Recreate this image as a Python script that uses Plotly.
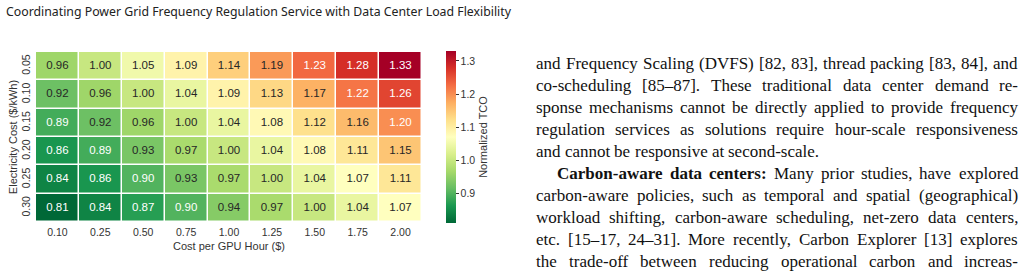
import plotly.graph_objects as go

# ---- data ----
gpu_cost = ["0.10", "0.25", "0.50", "0.75", "1.00", "1.25", "1.50", "1.75", "2.00"]
elec_cost = ["0.05", "0.10", "0.15", "0.20", "0.25", "0.30"]
tco = [
    [0.96, 1.00, 1.05, 1.09, 1.14, 1.19, 1.23, 1.28, 1.33],
    [0.92, 0.96, 1.00, 1.04, 1.09, 1.13, 1.17, 1.22, 1.26],
    [0.89, 0.92, 0.96, 1.00, 1.04, 1.08, 1.12, 1.16, 1.20],
    [0.86, 0.89, 0.93, 0.97, 1.00, 1.04, 1.08, 1.11, 1.15],
    [0.84, 0.86, 0.90, 0.93, 0.97, 1.00, 1.04, 1.07, 1.11],
    [0.81, 0.84, 0.87, 0.90, 0.94, 0.97, 1.00, 1.04, 1.07],
]
colorbar_ticks = [0.9, 1.0, 1.1, 1.2, 1.3]

header = "Coordinating Power Grid Frequency Regulation Service with Data Center Load Flexibility"
body_lines = [
    "and Frequency Scaling (DVFS) [82, 83], thread packing [83, 84], and",
    "co-scheduling [85–87]. These traditional data center demand re-",
    "sponse mechanisms cannot be directly applied to provide frequency",
    "regulation services as solutions require hour-scale responsiveness",
    "and cannot be responsive at second-scale.",
    "Carbon-aware data centers: Many prior studies, have explored",
    "carbon-aware policies, such as temporal and spatial (geographical)",
    "workload shifting, carbon-aware scheduling, net-zero data centers,",
    "etc. [15–17, 24–31]. More recently, Carbon Explorer [13] explores",
    "the trade-off between reducing operational carbon and increas-",
]
bold_words = {5: 3}          # line index -> number of leading bold words
paragraph_end = {4}          # lines that are not justified
indented = {5}

W, H = 1024, 277
rdylgn = ['rgb(165,0,38)', 'rgb(215,48,39)', 'rgb(244,109,67)', 'rgb(253,174,97)',
          'rgb(254,224,139)', 'rgb(255,255,191)', 'rgb(217,239,139)', 'rgb(166,217,106)',
          'rgb(102,189,99)', 'rgb(26,152,80)', 'rgb(0,104,55)']
cscale = [[i / 10, c] for i, c in enumerate(reversed(rdylgn))]

zmin = min(min(r) for r in tco)
zmax = max(max(r) for r in tco)

TXT = "#333"
SANS = "Liberation Sans"

fig = go.Figure()
fig.add_trace(go.Heatmap(
    x=gpu_cost, y=elec_cost, z=tco,
    colorscale=cscale, zmin=zmin, zmax=zmax,
    xgap=1.5, ygap=1.5,
    hoverinfo="skip",
    colorbar=dict(
        thicknessmode="pixels", thickness=10,
        lenmode="pixels", len=172,
        x=446 / W, xanchor="left", xpad=0,
        y=1 - 51 / H, yanchor="top", ypad=0,
        outlinewidth=0,
        tickvals=colorbar_ticks, ticktext=[f"{v:.1f}" for v in colorbar_ticks],
        ticks="outside", ticklen=3, tickwidth=1, tickcolor=TXT,
        tickfont=dict(family=SANS, size=10.5, color=TXT),
        title=dict(text="Normalized TCO", side="right",
                   font=dict(family=SANS, size=11, color=TXT)),
    ),
))

# cell labels
xs, ys, ts, cs = [], [], [], []
for i, row in enumerate(tco):
    for j, v in enumerate(row):
        xs.append(gpu_cost[j]); ys.append(elec_cost[i]); ts.append(f"{v:.2f}")
        cs.append("white" if (v <= 0.90 or v >= 1.20) else "#262626")
fig.add_trace(go.Scatter(
    x=xs, y=ys, text=ts, mode="text", hoverinfo="skip", showlegend=False,
    textfont=dict(family=SANS, size=11.5, color=cs),
))

fig.update_layout(
    width=W, height=H,
    margin=dict(l=0, r=0, t=0, b=0),
    paper_bgcolor="white", plot_bgcolor="white",
    showlegend=False,
    xaxis=dict(domain=[36 / W, 422 / W], type="category", showgrid=False, zeroline=False,
               ticks="", ticklabelstandoff=2,
               tickfont=dict(family=SANS, size=10.5, color=TXT),
               title=dict(text="Cost per GPU Hour ($)", standoff=5,
                          font=dict(family=SANS, size=11, color=TXT))),
    yaxis=dict(domain=[1 - 222 / H, 1 - 52 / H], type="category", autorange="reversed",
               showgrid=False, zeroline=False, ticks="", tickangle=-90, ticklabelstandoff=3,
               tickfont=dict(family=SANS, size=10.5, color=TXT),
               title=dict(text="Electricity Cost ($/kWh)", standoff=0,
                          font=dict(family=SANS, size=11, color=TXT))),
)

fig.add_annotation(
    text=header, xref="paper", yref="paper", x=4 / W, y=1 - 12 / H,
    xanchor="left", yanchor="middle", showarrow=False,
    font=dict(family="Noto Sans", size=12.3, color="#222"),
)

# ---- justified body text (Times-compatible advance widths, 1/1000 em) ----
REG = {' ': 250, '(': 333, ')': 333, ',': 250, '-': 333, '.': 250, ':': 278, '[': 333, ']': 333,
       '–': 500, 'A': 722, 'B': 667, 'C': 667, 'D': 722, 'E': 611, 'F': 556, 'G': 722, 'H': 722,
       'I': 333, 'J': 389, 'K': 722, 'L': 611, 'M': 889, 'N': 722, 'O': 722, 'P': 556, 'Q': 722,
       'R': 667, 'S': 556, 'T': 611, 'U': 722, 'V': 722, 'W': 944, 'X': 722, 'Y': 722, 'Z': 611,
       'a': 444, 'b': 500, 'c': 444, 'd': 500, 'e': 444, 'f': 333, 'g': 500, 'h': 500, 'i': 278,
       'j': 278, 'k': 500, 'l': 278, 'm': 778, 'n': 500, 'o': 500, 'p': 500, 'q': 500, 'r': 333,
       's': 389, 't': 278, 'u': 500, 'v': 500, 'w': 722, 'x': 500, 'y': 500, 'z': 444}
BOLD = {'C': 722, 'a': 500, 'r': 444, 'b': 556, 'o': 500, 'n': 556, '-': 333, 'w': 722,
        'e': 444, 'd': 556, 't': 333, 's': 389, 'c': 444, ':': 333}


def wwidth(word, bold, size):
    tbl = BOLD if bold else REG
    return sum(tbl.get(ch, REG.get(ch, 500)) for ch in word) * size / 1000.0


FS = 17
RIGHT = 1016
for k, line in enumerate(body_lines):
    x0 = 555 if k in indented else 534
    words = line.split(" ")
    nb = bold_words.get(k, 0)
    widths = [wwidth(w, i < nb, FS) for i, w in enumerate(words)]
    if k in paragraph_end or len(words) < 2:
        gap = 250 * FS / 1000.0
    else:
        gap = (RIGHT - x0 - sum(widths)) / (len(words) - 1)
    xp = x0
    ypos = 1 - (63.5 + 22 * k) / H
    for i, w in enumerate(words):
        fig.add_annotation(
            text=f"<b>{w}</b>" if i < nb else w,
            xref="paper", yref="paper", x=xp / W, y=ypos,
            xanchor="left", yanchor="middle", showarrow=False,
            font=dict(family="Liberation Serif", size=FS, color="#111"),
        )
        xp += widths[i] + gap

fig.write_html("out.html")
